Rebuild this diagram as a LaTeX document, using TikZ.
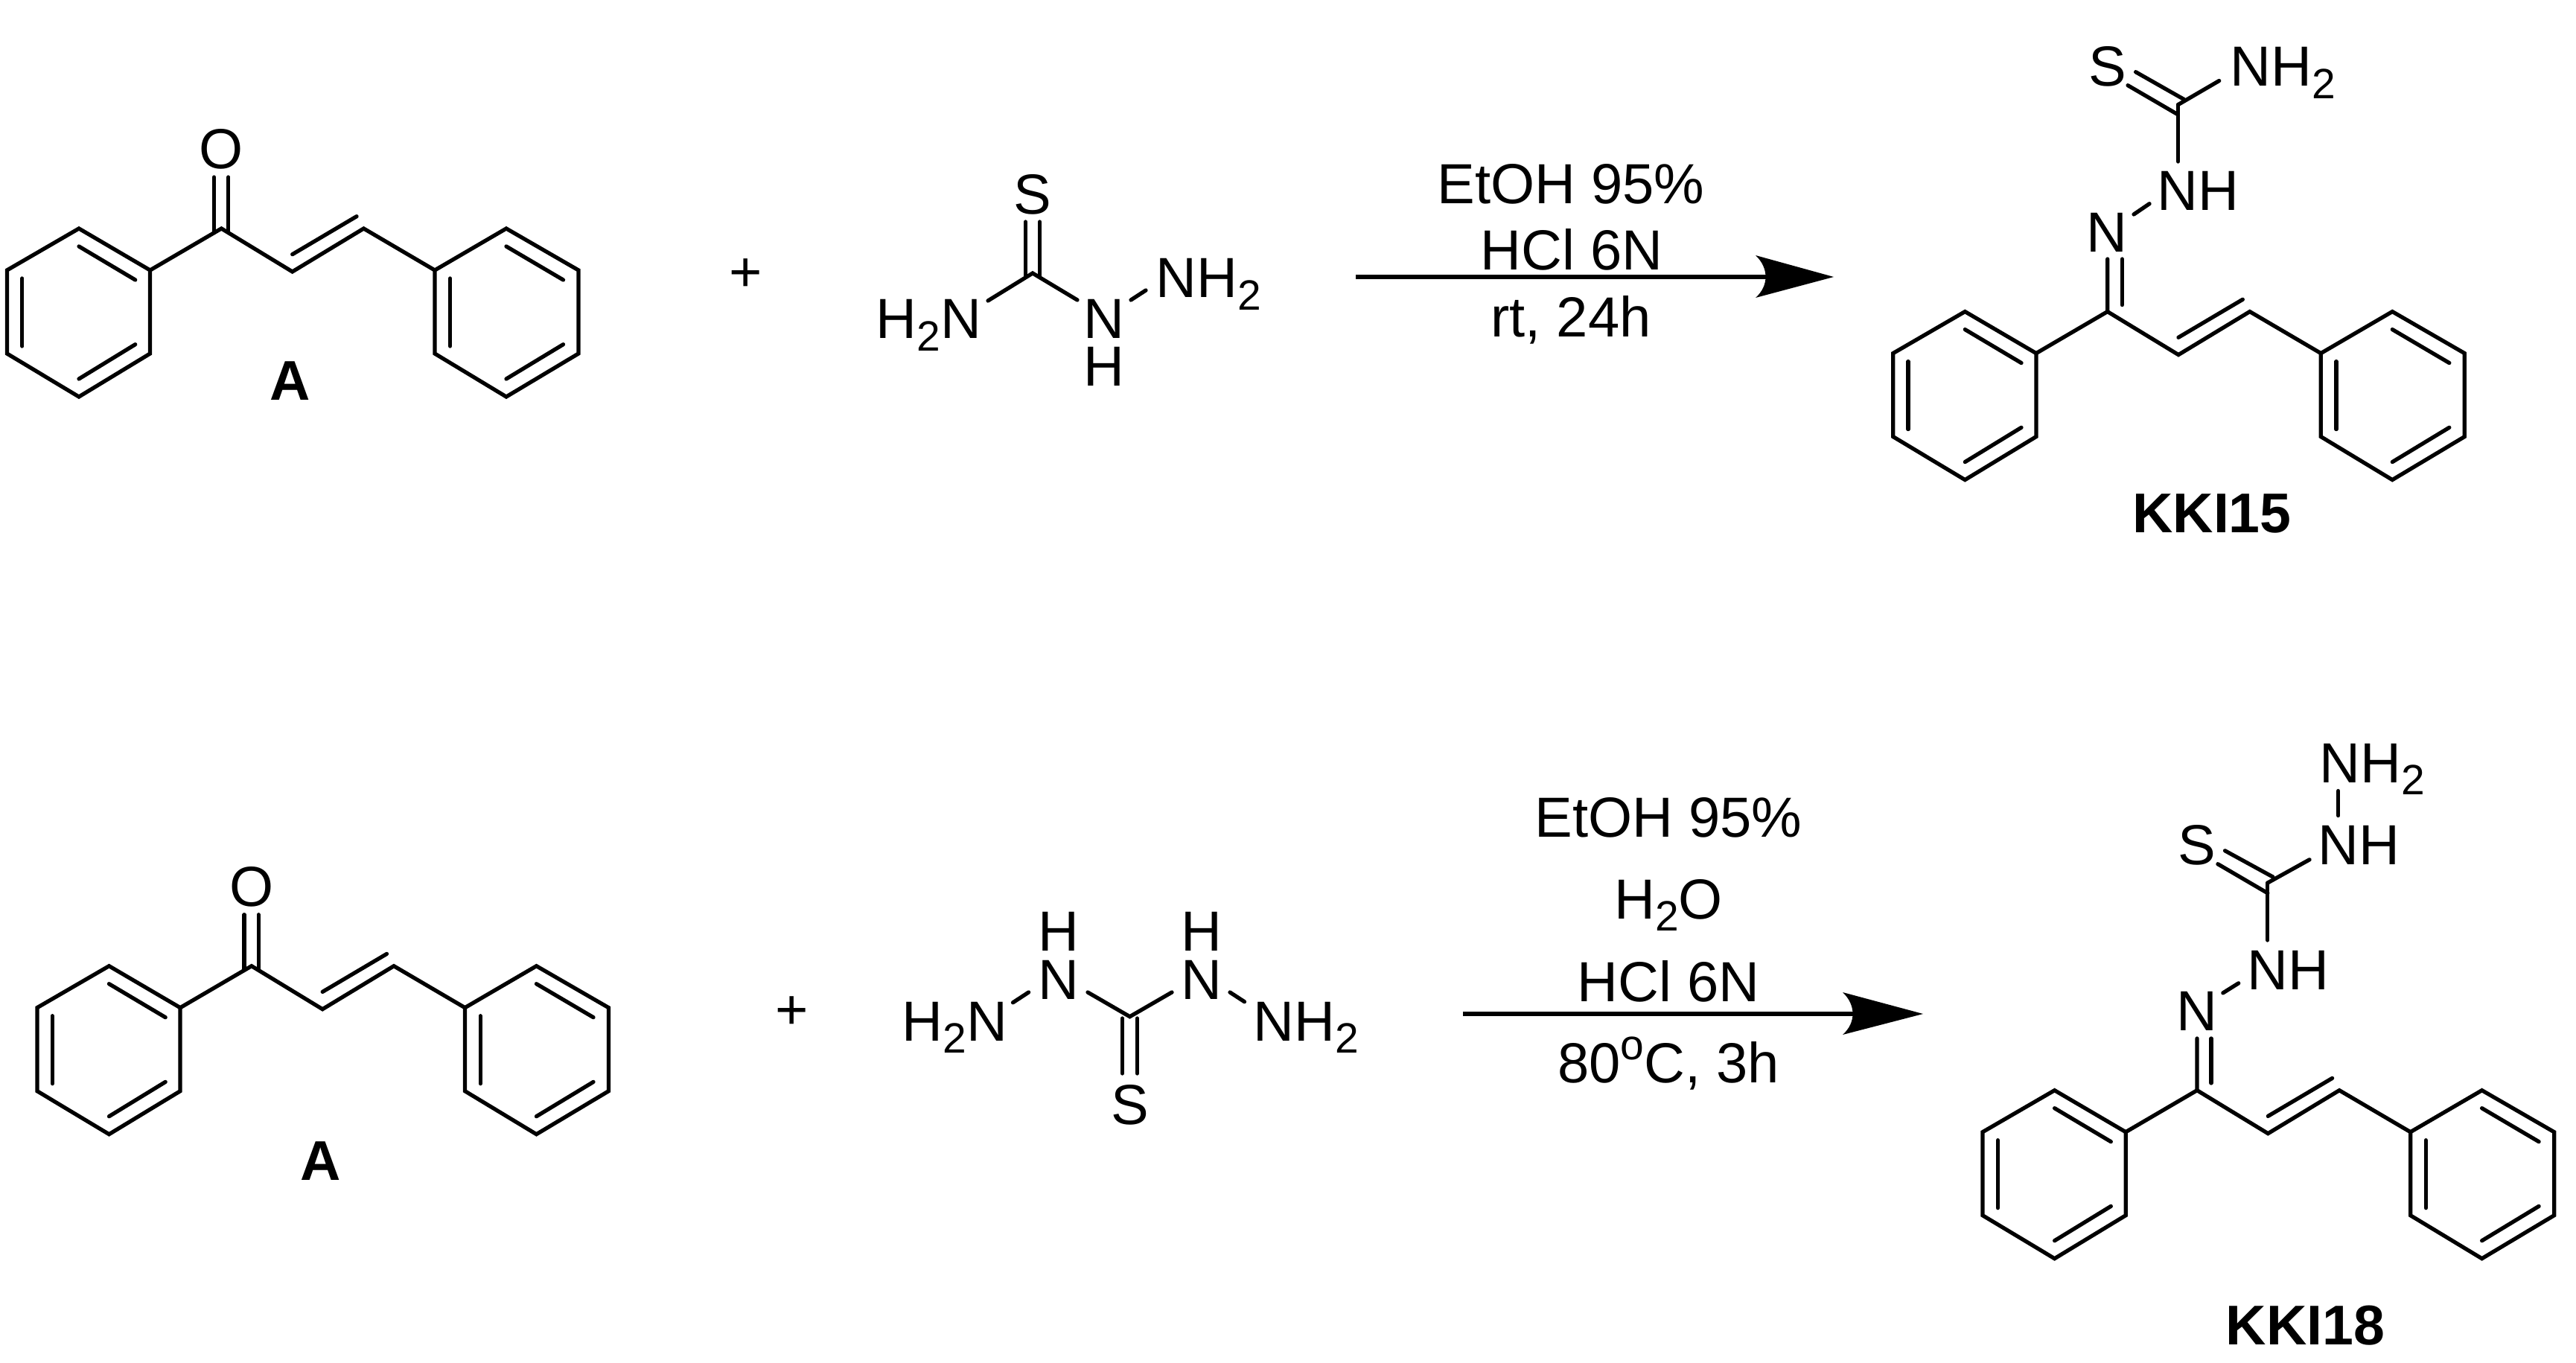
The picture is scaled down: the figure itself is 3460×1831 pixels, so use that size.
\documentclass[tikz,border=0pt]{standalone}
\usepackage{fontspec}
\setmainfont{Liberation Sans}
\newcommand{\lowtwo}{\raisebox{-4.6pt}{\fontsize{16.2}{16.2}\selectfont 2}}
\newcommand{\updeg}{\raisebox{8.6pt}{\fontsize{16.2}{16.2}\selectfont o}}
\newcommand{\stackNH}[1]{\vbox{\baselineskip=#1\hbox{N}\hbox{H}}}
\newcommand{\stackHN}[1]{\vbox{\baselineskip=#1\hbox{H}\hbox{N}}}
\tikzset{
  bond/.style={draw=black,line width=1.5pt,line cap=round,line join=miter,miter limit=10},
  atomlabel/.style={inner sep=0pt,outer sep=0pt,anchor=base,font=\fontsize{21.6}{24}\selectfont},
  reagent/.style={inner sep=0pt,outer sep=0pt,anchor=base,font=\fontsize{21.6}{24}\selectfont},
  compound/.style={inner sep=0pt,outer sep=0pt,anchor=base,font=\fontsize{21.4}{24}\selectfont\bfseries},
  rxnline/.style={draw=black,line width=1.5pt},
  rxnhead/.style={fill=black,draw=none}
}
\newcommand{\chalcone}[3]{%
\begin{scope}[shift={(#2,#3)},name prefix=#1-]
  \coordinate (c0) at (297.4,307);
  \coordinate (ch1) at (392.7,365);
  \coordinate (ch2) at (488.5,307);
  \coordinate (dbA) at (392.7,341.7);
  \coordinate (dbB) at (479,290.7);
  \coordinate (l1) at (201.6,363);
  \coordinate (l2) at (106,307);
  \coordinate (l3) at (9.4,363);
  \coordinate (l4) at (9.4,475);
  \coordinate (l5) at (106,533);
  \coordinate (l6) at (201.6,475);
  \coordinate (r1) at (584,363);
  \coordinate (r2) at (680,307);
  \coordinate (r3) at (777,363);
  \coordinate (r4) at (777,475);
  \coordinate (r5) at (680,533);
  \coordinate (r6) at (584,475);
  \coordinate (la) at (106,331);
  \coordinate (lb) at (181.7,376);
  \coordinate (lc) at (29.8,374);
  \coordinate (ld) at (29.8,465);
  \coordinate (le) at (181.7,462.7);
  \coordinate (lf) at (106,509);
  \coordinate (ra) at (680,331);
  \coordinate (rb) at (756.5,376);
  \coordinate (rc) at (604.7,374);
  \coordinate (rd) at (604.7,465);
  \coordinate (re) at (756.5,462.7);
  \coordinate (rf) at (680,509);
  \draw[bond] (l1)--(l2)--(l3)--(l4)--(l5)--(l6)--cycle;
  \draw[bond] (r1)--(r2)--(r3)--(r4)--(r5)--(r6)--cycle;
  \draw[bond] (l1)--(c0)--(ch1)--(ch2)--(r1);
  \draw[bond] (dbA)--(dbB);
  \draw[bond] (la)--(lb);
  \draw[bond] (lc)--(ld);
  \draw[bond] (le)--(lf);
  \draw[bond] (ra)--(rb);
  \draw[bond] (rc)--(rd);
  \draw[bond] (re)--(rf);
\end{scope}}
\newcommand{\carbonyl}[3]{%
\begin{scope}[shift={(#2,#3)},name prefix=#1-]
  \coordinate (oa) at (287.6,238);
  \coordinate (ob) at (287.6,312);
  \coordinate (oc) at (306.8,238);
  \coordinate (od) at (306.8,312);
  \draw[bond] (oa)--(ob);
  \draw[bond] (oc)--(od);
  \node[atomlabel] (oxygen) at (297.4,227) {O};
\end{scope}}
\begin{document}
\begin{tikzpicture}[x=0.01cm,y=-0.01cm]
\useasboundingbox (0,0) rectangle (3460,1831);

% ---- top row: chalcone A ----
\chalcone{ta}{0}{0}
\carbonyl{ta}{0}{0}
\node[compound] (labelAtop) at (390,538) {A};
\node[atomlabel] (plusTop) at (1002,392) {+};

% ---- thiosemicarbazide ----
\coordinate (ts-c) at (1387,367);
\node[atomlabel] (ts-s) at (1387,288) {S};
\node[atomlabel] (ts-h2n) at (1247.5,455) {H\lowtwo N};
\node[atomlabel] (ts-nh) at (1482.5,519) {\stackNH{18.2pt}};
\node[atomlabel] (ts-nh2) at (1623.5,400) {NH\lowtwo};
\coordinate (ts-a) at (1377.5,298);
\coordinate (ts-a2) at (1377.5,372);
\coordinate (ts-b) at (1396.5,298);
\coordinate (ts-b2) at (1396.5,372);
\coordinate (ts-l) at (1327,404);
\coordinate (ts-r) at (1447,403);
\coordinate (ts-p) at (1519,403);
\coordinate (ts-q) at (1539,390);
\draw[bond] (ts-a)--(ts-a2);
\draw[bond] (ts-b)--(ts-b2);
\draw[bond] (ts-l)--(ts-c)--(ts-r);
\draw[bond] (ts-p)--(ts-q);

% ---- reaction 1 ----
\node[reagent] (r1-a) at (2110,274) {EtOH 95\%};
\node[reagent] (r1-b) at (2111,363) {HCl 6N};
\node[reagent] (r1-c) at (2110,453) {rt, 24h};
\coordinate (r1-s) at (1821,372);
\coordinate (r1-e) at (2372,372);
\coordinate (r1-tip) at (2463,372);
\coordinate (r1-up) at (2358,343);
\coordinate (r1-dn) at (2358,400);
\draw[rxnline] (r1-s)--(r1-e);
\fill[rxnhead] (r1-tip)--(r1-up) .. controls (2376,360) and (2376,384) .. (r1-dn)--cycle;

% ---- KKI15 ----
\chalcone{k15}{2533.3}{111.6}
\coordinate (k15-da) at (2830.7,348);
\coordinate (k15-db) at (2850.3,348);
\coordinate (k15-dc) at (2850.3,409.6);
\draw[bond] (k15-da)--(k15-c0);
\draw[bond] (k15-db)--(k15-dc);
\node[atomlabel] (k15-n) at (2830,339) {N};
\node[atomlabel] (k15-nh) at (2952.5,283) {NH};
\coordinate (k15-nna) at (2866,288);
\coordinate (k15-nnb) at (2887,273.7);
\draw[bond] (k15-nna)--(k15-nnb);
\coordinate (k15-c) at (2925.6,140.6);
\coordinate (k15-cb) at (2925.6,217);
\draw[bond] (k15-cb)--(k15-c);
\coordinate (k15-sa) at (2858,114.7);
\coordinate (k15-sb) at (2924.4,153.4);
\coordinate (k15-sc) at (2868.6,96.7);
\coordinate (k15-sd) at (2933.6,133.6);
\draw[bond] (k15-sa)--(k15-sb);
\draw[bond] (k15-sc)--(k15-sd);
\coordinate (k15-cn) at (2980.7,108.5);
\draw[bond] (k15-c)--(k15-cn);
\node[atomlabel] (k15-s) at (2830.5,116) {S};
\node[atomlabel] (k15-nh2) at (3066,116) {NH\lowtwo};
\node[compound] (k15-name) at (2971,716) {KKI15};

% ---- bottom row: chalcone A ----
\chalcone{ba}{40.5}{990.7}
\carbonyl{ba}{40.5}{990.7}
\node[compound] (labelAbot) at (431,1585) {A};
\node[atomlabel] (plusBot) at (1064,1382) {+};

% ---- thiocarbohydrazide ----
\coordinate (tc-c) at (1517.5,1365.7);
\node[atomlabel] (tc-s) at (1517.5,1510) {S};
\node[atomlabel] (tc-hnl) at (1421.5,1342.5) {\stackHN{18.6pt}};
\node[atomlabel] (tc-hnr) at (1613.5,1342.5) {\stackHN{18.6pt}};
\node[atomlabel] (tc-h2n) at (1282.5,1398.6) {H\lowtwo N};
\node[atomlabel] (tc-nh2) at (1754,1398.6) {NH\lowtwo};
\coordinate (tc-a) at (1507.5,1368);
\coordinate (tc-a2) at (1507.5,1442);
\coordinate (tc-b) at (1527.5,1368);
\coordinate (tc-b2) at (1527.5,1442);
\coordinate (tc-l) at (1461,1333);
\coordinate (tc-r) at (1574,1333);
\coordinate (tc-nla) at (1381.6,1333);
\coordinate (tc-nlb) at (1360.5,1346.8);
\coordinate (tc-nra) at (1652,1333);
\coordinate (tc-nrb) at (1671.5,1345.7);
\draw[bond] (tc-a)--(tc-a2);
\draw[bond] (tc-b)--(tc-b2);
\draw[bond] (tc-l)--(tc-c)--(tc-r);
\draw[bond] (tc-nla)--(tc-nlb);
\draw[bond] (tc-nra)--(tc-nrb);

% ---- reaction 2 ----
\node[reagent] (r2-a) at (2241,1124.6) {EtOH 95\%};
\node[reagent] (r2-b) at (2241,1234) {H\lowtwo O};
\node[reagent] (r2-c) at (2241,1345) {HCl 6N};
\node[reagent] (r2-d) at (2241,1454) {80\updeg C, 3h};
\coordinate (r2-s) at (1965,1362);
\coordinate (r2-e) at (2490,1362);
\coordinate (r2-tip) at (2583,1362);
\coordinate (r2-up) at (2475,1333);
\coordinate (r2-dn) at (2475,1390);
\draw[rxnline] (r2-s)--(r2-e);
\fill[rxnhead] (r2-tip)--(r2-up) .. controls (2493,1350) and (2493,1374) .. (r2-dn)--cycle;

% ---- KKI18 ----
\chalcone{k18}{2653.6}{1157.7}
\coordinate (k18-da) at (2951,1395);
\coordinate (k18-db) at (2970,1395);
\coordinate (k18-dc) at (2970,1455);
\draw[bond] (k18-da)--(k18-c0);
\draw[bond] (k18-db)--(k18-dc);
\node[atomlabel] (k18-n) at (2951,1384) {N};
\node[atomlabel] (k18-nh) at (3073.4,1329) {NH};
\coordinate (k18-nna) at (2985.8,1333.9);
\coordinate (k18-nnb) at (3006.7,1320.8);
\draw[bond] (k18-nna)--(k18-nnb);
\coordinate (k18-c) at (3045.8,1186);
\coordinate (k18-cb) at (3045.8,1263);
\draw[bond] (k18-cb)--(k18-c);
\coordinate (k18-sa) at (2978.9,1160.7);
\coordinate (k18-sb) at (3045.8,1199.8);
\coordinate (k18-sc) at (2988.5,1142.8);
\coordinate (k18-sd) at (3052.8,1178);
\draw[bond] (k18-sa)--(k18-sb);
\draw[bond] (k18-sc)--(k18-sd);
\coordinate (k18-cn) at (3102,1154.8);
\draw[bond] (k18-c)--(k18-cn);
\node[atomlabel] (k18-s) at (2950.5,1161) {S};
\node[atomlabel] (k18-nh1) at (3168,1161) {NH};
\node[atomlabel] (k18-nh2) at (3186,1051.6) {NH\lowtwo};
\coordinate (k18-nnc) at (3140.6,1062.5);
\coordinate (k18-nnd) at (3140.6,1095.6);
\draw[bond] (k18-nnc)--(k18-nnd);
\node[compound] (k18-name) at (3096.5,1806.6) {KKI18};
\end{tikzpicture}
\end{document}
